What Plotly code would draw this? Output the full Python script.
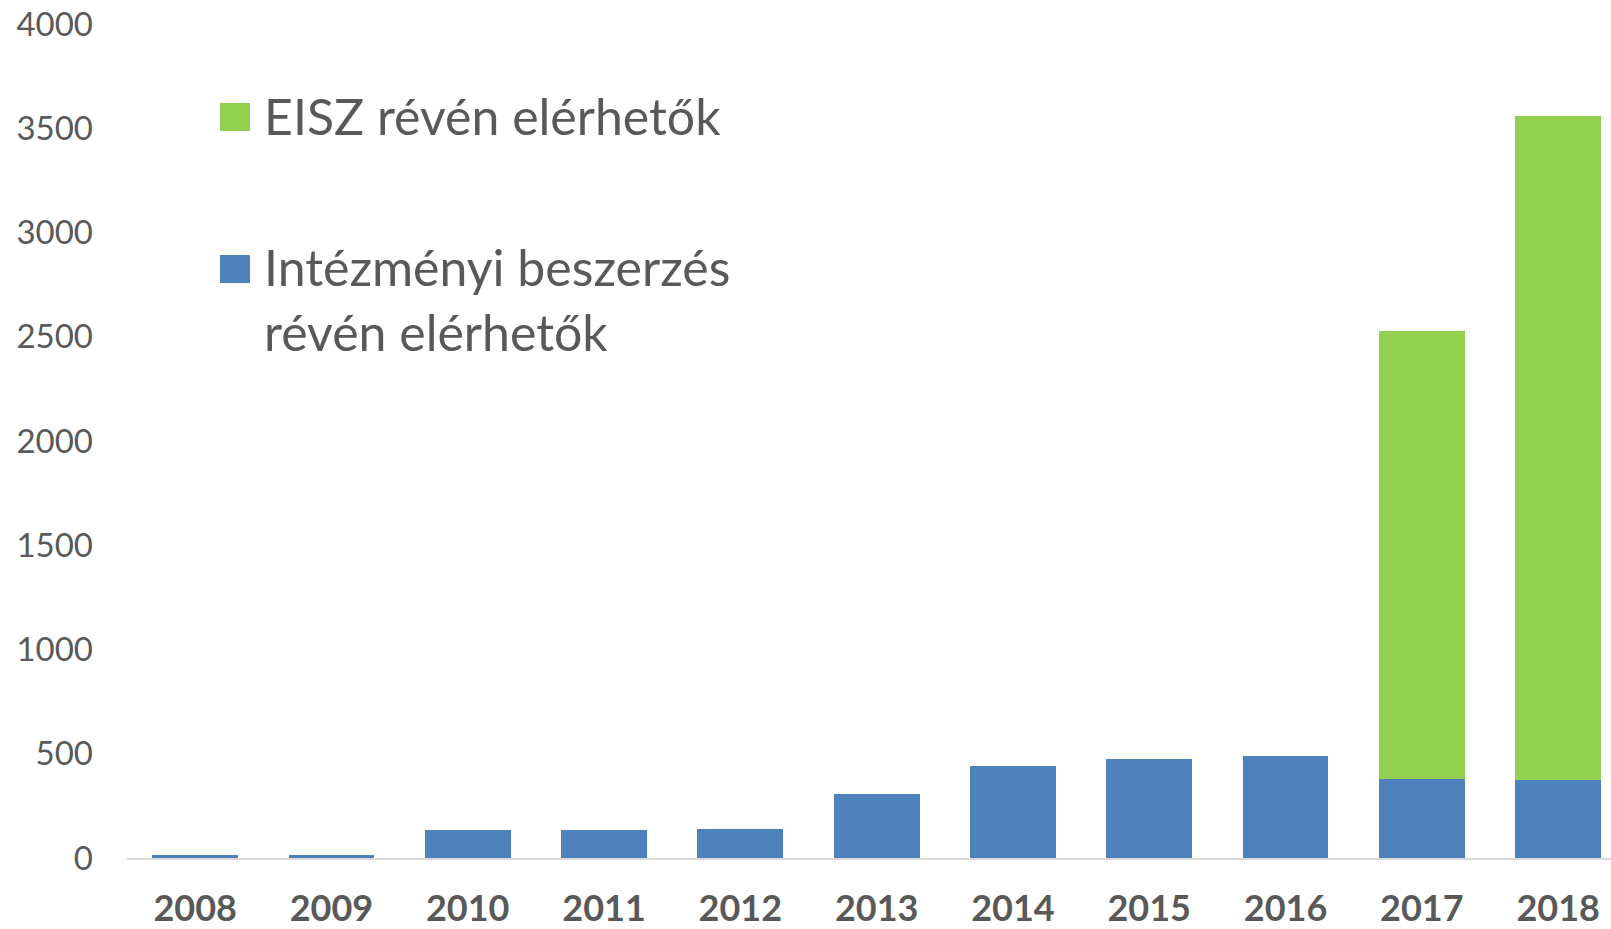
import plotly.graph_objects as go

years = ["2008", "2009", "2010", "2011", "2012", "2013", "2014", "2015", "2016", "2017", "2018"]
intezmenyi = [15, 15, 135, 135, 140, 305, 442, 474, 490, 380, 372]
eisz = [0, 0, 0, 0, 0, 0, 0, 0, 0, 2150, 3185]
series_names = ["EISZ révén elérhetők", "Intézményi beszerzés<br>révén elérhetők"]
y_ticks = [0, 500, 1000, 1500, 2000, 2500, 3000, 3500, 4000]

BLUE = "#4F81BD"
GREEN = "#92D050"
TXT = "#595959"

W, H = 1611, 929
ML, MR, MT, MB = 127, 0, 24, 71
PW, PH = W - ML - MR, H - MT - MB

def px(x):  # page pixel -> paper
    return (x - ML) / PW

def py(y):
    return (H - MB - y) / PH

fig = go.Figure()
fig.add_trace(go.Bar(x=years, y=intezmenyi, name=series_names[1], marker_color=BLUE,
                     marker_line_width=0, showlegend=False))
fig.add_trace(go.Bar(x=years, y=eisz, name=series_names[0], marker_color=GREEN,
                     marker_line_width=0, showlegend=False))

shapes = []
annotations = []
for (sq_top, color, name, text_y) in [(103, GREEN, series_names[0], 116),
                                      (255, BLUE, series_names[1], 299.5)]:
    shapes.append(dict(type="rect", xref="paper", yref="paper",
                       x0=px(220), x1=px(250), y0=py(sq_top + 28), y1=py(sq_top),
                       fillcolor=color, line=dict(width=0)))
    annotations.append(dict(xref="paper", yref="paper", x=px(262), y=py(text_y),
                            xanchor="left", yanchor="middle", align="left",
                            text=name, showarrow=False,
                            font=dict(family="Lato", size=50, color=TXT)))

fig.update_layout(
    barmode="stack",
    bargap=0.37,
    width=W, height=H,
    margin=dict(l=ML, r=MR, t=MT, b=MB, autoexpand=False),
    plot_bgcolor="white", paper_bgcolor="white",
    shapes=shapes, annotations=annotations,
    showlegend=False,
    xaxis=dict(type="category", range=[-0.5, -0.5 + PW / 136.3], automargin=False,
               showline=True, linecolor="#D9D9D9", linewidth=1.5,
               showgrid=False, ticks="", ticklabelstandoff=18,
               tickfont=dict(family="Lato", size=36, color=TXT, weight="bold")),
    yaxis=dict(range=[0, 4000], tickvals=y_ticks, showgrid=False, zeroline=False,
               showline=False, ticks="", ticklabelstandoff=33, automargin=False,
               ticklabeloverflow="allow",
               tickfont=dict(family="Lato", size=33, color=TXT)),
)

fig.write_html("out.html",
               config={"displayModeBar": False},
               post_script="document.body.style.margin='0';document.body.style.overflow='hidden';")
